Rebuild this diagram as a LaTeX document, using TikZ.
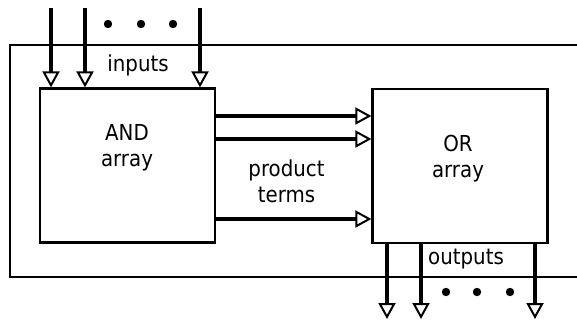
\documentclass[tikz,border=0pt]{standalone}
\usepackage{fontspec}
\setmainfont{DejaVu Sans}[FakeStretch=0.9]
\usetikzlibrary{arrows.meta, positioning}

\tikzset{
  blockbox/.style={draw, line width=2.2pt, minimum width=175pt, minimum height=154pt, inner sep=0pt},
  sig/.style={line width=3.4pt, -{Triangle[open, length=16pt, width=17pt, line width=2pt]}},
  lbl/.style={inner sep=0pt, align=center, font=\fontsize{22}{26}\selectfont},
}

\begin{document}
\begin{tikzpicture}[x=1pt, y=-1pt]
  \useasboundingbox (0,0) rectangle (577,324);
  % ---- outer frame, open to the right ----
  \draw[line width=2.2pt] (577,45) -- (10,45) -- (10,277) -- (577,277);
  % ---- the two arrays ----
  \node[blockbox] (and) at (127.5,165.5) {};
  \node[blockbox] (or) at (460,166) {};
  \node[lbl] (andtxt) at (127,148) {AND\\array};
  \node[lbl] (ortxt) at (458,159) {OR\\array};
  \node[lbl] (prodtxt) at (286.5,181.5) {product\\terms};
  % ---- inputs ----
  \node[lbl, anchor=base] (intxt) at (138,71) {inputs};
  \foreach \x [count=\i] in {51,85,200} {
    \coordinate (in\i) at (\x,8);
    \draw[sig] (in\i) -- (in\i |- and.north);
  }
  \foreach \x in {108,141,173} \fill (\x,24) circle (4.2pt);
  % ---- product terms ----
  \foreach \y [count=\i] in {116,139,219} {
    \coordinate (pt\i) at (0,\y);
    \draw[sig] (and.east |- pt\i) -- (or.west |- pt\i);
  }
  % ---- outputs ----
  \node[lbl, anchor=base] (outtxt) at (466,264) {outputs};
  \foreach \x [count=\i] in {387,421,535} {
    \coordinate (out\i) at (\x,319);
    \draw[sig] (or.south -| out\i) -- (out\i);
  }
  \foreach \x in {446,477,510} \fill (\x,292) circle (4.2pt);
\end{tikzpicture}
\end{document}
